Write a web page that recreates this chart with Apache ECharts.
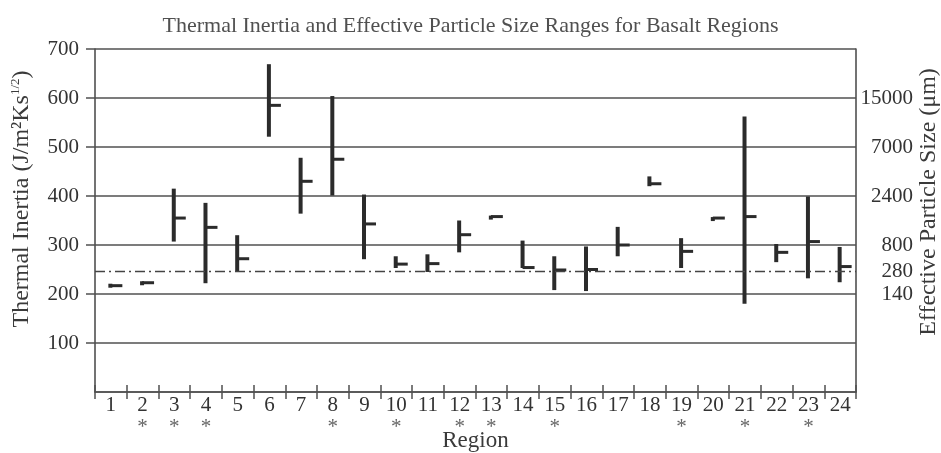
<!DOCTYPE html>
<html>
<head>
<meta charset="utf-8">
<script src="https://cdn.jsdelivr.net/npm/echarts@6/dist/echarts.min.js"></script>
<style>
  html, body { margin: 0; padding: 0; background: #fff; }
  #chart { width: 941px; height: 453px; }
</style>
</head>
<body>
<div id="chart"></div>
<script>
// regions and thermal inertia ranges (J/m2Ks1/2)
const regions = ['1','2','3','4','5','6','7','8','9','10','11','12','13','14','15','16','17','18','19','20','21','22','23','24'];
const tiMin  = [213, 220, 307, 222, 245, 521, 364, 401, 271, 253, 245, 285, 357, 253, 208, 206, 277, 420, 253, 353, 180, 265, 232, 224];
const tiMax  = [221, 226, 415, 386, 320, 669, 478, 604, 403, 277, 281, 350, 360, 309, 277, 297, 337, 440, 314, 357, 562, 302, 399, 296];
const tiMean = [217, 223, 355, 336, 272, 585, 430, 475, 343, 261, 262, 321, 358, 254, 249, 250, 300, 425, 287, 355, 358, 285, 307, 256];
// regions marked with an asterisk under the axis
const marks = ['', '*', '*', '*', '', '', '', '*', '', '*', '', '*', '*', '', '*', '', '', '', '*', '', '*', '', '*', ''];
// right axis: particle size labels placed at thermal inertia values
const sizeTickValues = [200, 246, 300, 400, 500, 600];
const sizeTickLabels = ['140', '280', '800', '2400', '7000', '15000'];
const dividerValue = 246;

const serif = 'Liberation Serif';
const ink = '#2b2b2b';
const lineCol = '#505050';

const chart = echarts.init(document.getElementById('chart'));

function renderItem(params, api) {
  const i = api.value(0);
  const top = api.coord([i, api.value(2)]);
  const bot = api.coord([i, api.value(1)]);
  const mid = api.coord([i, api.value(3)]);
  const h = Math.max(bot[1] - top[1], 4);
  return {
    type: 'group',
    children: [
      { type: 'rect', shape: { x: top[0] - 2.5, y: top[1], width: 4, height: h }, style: { fill: ink } },
      { type: 'rect', shape: { x: top[0] - 0.5, y: mid[1] - 1.5, width: 12, height: 3 }, style: { fill: ink } }
    ]
  };
}

const option = {
  backgroundColor: '#fff',
  animation: false,
  title: {
    text: 'Thermal Inertia and Effective Particle Size Ranges for Basalt Regions',
    left: 'center',
    top: 10,
    textStyle: { fontFamily: serif, fontSize: 22, fontWeight: 'normal', color: '#505050' }
  },
  grid: { left: 95, right: 85, top: 49, bottom: 61, outerBoundsMode: 'none' },
  xAxis: [
    {
      type: 'category',
      position: 'bottom',
      data: regions,
      boundaryGap: true,
      name: 'Region',
      nameLocation: 'middle',
      nameGap: 37,
      nameTextStyle: { fontFamily: serif, fontSize: 23, color: '#3a3a3a' },
      axisLine: { lineStyle: { color: lineCol, width: 1.6 } },
      axisTick: { show: true, interval: 0, length: 7, lineStyle: { color: lineCol, width: 1.5 } },
      axisLabel: { interval: 0, margin: 3, fontFamily: serif, fontSize: 21, color: '#333' }
    },
    {
      type: 'category',
      position: 'bottom',
      data: regions,
      boundaryGap: true,
      axisLine: { show: false },
      axisTick: { show: true, inside: true, interval: 0, length: 7, lineStyle: { color: lineCol, width: 1.5 } },
      axisLabel: { show: false }
    },
    {
      type: 'category',
      position: 'bottom',
      data: regions,
      boundaryGap: true,
      axisLine: { show: false },
      axisTick: { show: false },
      axisLabel: {
        interval: 0, margin: 25, fontFamily: serif, fontSize: 21, color: '#666',
        formatter: function (v, idx) { return marks[idx]; }
      }
    }
  ],
  yAxis: [
    {
      type: 'value',
      min: 0,
      max: 700,
      interval: 100,
      axisLine: { show: true, lineStyle: { color: lineCol, width: 1.6 } },
      axisTick: { show: true, length: 9, lineStyle: { color: lineCol, width: 1.5 } },
      axisLabel: { showMinLabel: false, margin: 16, fontFamily: serif, fontSize: 21, color: '#333' },
      splitLine: { show: true, lineStyle: { color: lineCol, width: 1.6 } }
    },
    {
      type: 'value',
      position: 'right',
      min: 0,
      max: 700,
      axisLine: { show: true, lineStyle: { color: lineCol, width: 1.6 } },
      axisTick: { show: false },
      splitLine: { show: false },
      axisLabel: {
        customValues: sizeTickValues,
        margin: 57,
        align: 'right',
        fontFamily: serif,
        fontSize: 21,
        color: '#333',
        formatter: function (v) {
          const k = sizeTickValues.indexOf(v);
          return k >= 0 ? sizeTickLabels[k] : '';
        }
      }
    }
  ],
  graphic: [
    {
      type: 'text',
      x: 22,
      y: 199,
      rotation: Math.PI / 2,
      style: {
        text: '{a|Thermal Inertia (J/m²Ks}{s|1/2}{a|)}',
        align: 'center',
        verticalAlign: 'middle',
        rich: {
          a: { fontFamily: serif, fontSize: 24, fill: '#3a3a3a', lineHeight: 26 },
          s: { fontFamily: serif, fontSize: 13, fill: '#3a3a3a', verticalAlign: 'top', lineHeight: 26 }
        }
      }
    },
    {
      type: 'text',
      x: 929,
      y: 202,
      rotation: Math.PI / 2,
      style: {
        text: 'Effective Particle Size (μm)',
        align: 'center',
        verticalAlign: 'middle',
        fontFamily: serif,
        fontSize: 24,
        fill: '#3a3a3a'
      }
    }
  ],
  series: [
    {
      type: 'custom',
      xAxisIndex: 0,
      yAxisIndex: 0,
      renderItem: renderItem,
      encode: { x: 0, y: [1, 2, 3] },
      data: regions.map(function (r, i) { return [i, tiMin[i], tiMax[i], tiMean[i]]; }),
      markLine: {
        silent: true,
        symbol: 'none',
        label: { show: false },
        lineStyle: { color: '#444', width: 1.4, type: [10, 4, 2, 4] },
        data: [{ yAxis: dividerValue }]
      }
    }
  ]
};

chart.setOption(option);
</script>
</body>
</html>
